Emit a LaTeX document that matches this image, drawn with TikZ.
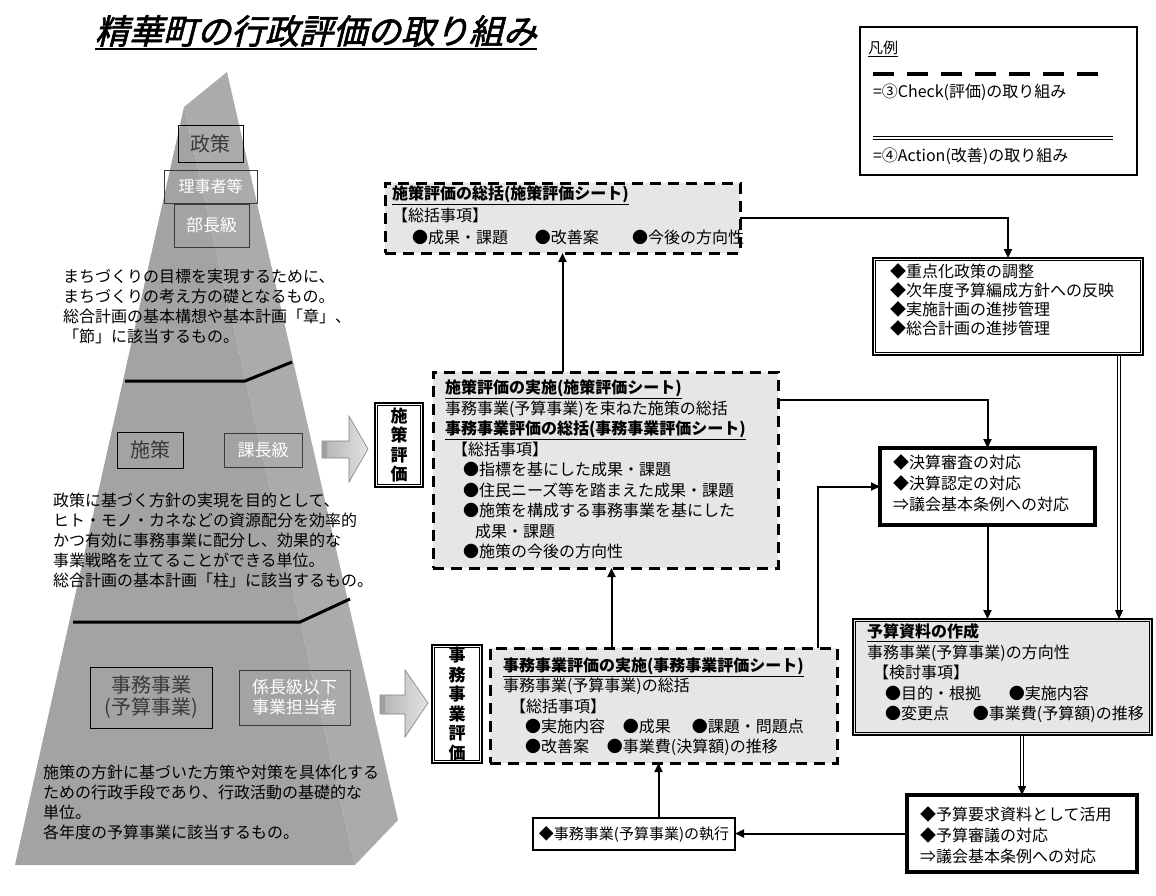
\documentclass[tikz,border=0pt]{standalone}
\usepackage{fontspec}
\setmainfont{Noto Sans CJK JP}
\newfontfamily\ttlfont[FakeSlant=0.25,FakeBold=2]{Noto Sans CJK JP}
\usetikzlibrary{arrows.meta,calc}
\definecolor{boxgray}{HTML}{E6E6E6}
\definecolor{pyr}{HTML}{A3A3A3}
\definecolor{pyrside}{HTML}{ABABAB}
\definecolor{dk}{HTML}{3A3A3A}
\newcommand\innerfr[1]{\draw[line width=1.1pt] ([shift={(2.8pt,-2.8pt)}]#1.north west) rectangle ([shift={(-2.8pt,2.8pt)}]#1.south east);}
\begin{document}
\begin{tikzpicture}[x=1pt,y=-1pt,
  every node/.style={inner sep=0pt,outer sep=0pt},
  chk/.style={draw=black,line width=3pt,dash pattern=on 11pt off 7pt,fill=boxgray,anchor=north west},
  act/.style={draw=black,line width=1.1pt},
  thk/.style={draw=black,line width=3.2pt,fill=white,anchor=north west},
  txt/.style={anchor=north west,align=left,font=\fontsize{16}{20.5}\selectfont},
  arr/.style={line width=2pt,-{Triangle[length=9pt,width=8pt]}},
  tip/.style={line width=1pt,-{Triangle[length=9pt,width=8pt]}},
  dl/.style={line width=1.1pt},
  darkbox/.style={draw=black,line width=1pt,text=dk,align=center},
  whitebox/.style={draw=dk,line width=0.8pt,text=white,align=center},
  vlab/.style={act,fill=white,align=center,font=\bfseries\fontsize{17}{19.5}\selectfont},
  blk/.style={left color=gray!60,right color=gray!22,draw=gray,line width=0.6pt}
]
\useasboundingbox (0,0) rectangle (1156,895);
\fill[white] (0,0) rectangle (1156,895);

% title
\node[anchor=west,font=\ttlfont\fontsize{34}{36}\selectfont] (title) at (95,31) {精華町の行政評価の取り組み};
\draw[line width=2.2pt] ([yshift=-2pt]title.south west) -- ([yshift=-2pt]title.south east);

% pyramid
\fill[pyr] (184,107) -- (15,865) -- (355,865) -- cycle;
\fill[pyrside] (184,107) -- (227,72) -- (398,820) -- (355,865) -- cycle;
\draw[line width=3pt] (125,381) -- (245,381) -- (292,362);
\draw[line width=3pt] (73,622) -- (300,622) -- (350,599);

\node[darkbox,minimum width=65pt,minimum height=37pt,font=\fontsize{20}{22}\selectfont] (seisaku) at (210.5,143.5) {政策};
\node[whitebox,minimum width=93pt,minimum height=33pt,font=\fontsize{16}{18}\selectfont] (riji) at (210.5,186.5) {理事者等};
\node[whitebox,minimum width=75pt,minimum height=43pt,font=\fontsize{17}{19}\selectfont] (bucho) at (211.5,225.5) {部長級};
\node[darkbox,minimum width=66pt,minimum height=36pt,font=\fontsize{20}{22}\selectfont] (shisaku) at (150,450) {施策};
\node[whitebox,minimum width=78pt,minimum height=34pt,font=\fontsize{17}{19}\selectfont] (kacho) at (263,450) {課長級};
\node[darkbox,minimum width=122pt,minimum height=61pt,font=\fontsize{20}{22}\selectfont] (jimu) at (151,697.5) {事務事業\\(予算事業)};
\node[whitebox,minimum width=111pt,minimum height=55pt,font=\fontsize{17}{20}\selectfont] (kakari) at (294.5,697.5) {係長級以下\\事業担当者};

\node[txt,font=\fontsize{16}{20}\selectfont] (p1) at (63,269) {まちづくりの目標を実現するために、\\まちづくりの考え方の礎となるもの。\\総合計画の基本構想や基本計画「章」、\\「節」に該当するもの。};
\node[txt,font=\fontsize{16}{20}\selectfont] (p2) at (53,493) {政策に基づく方針の実現を目的として、\\ヒト・モノ・カネなどの資源配分を効率的\\かつ有効に事務事業に配分し、効果的な\\事業戦略を立てることができる単位。\\総合計画の基本計画「柱」に該当するもの。};
\node[txt,font=\fontsize{16}{20}\selectfont] (p3) at (43,765) {施策の方針に基づいた方策や対策を具体化する\\ための行政手段であり、行政活動の基礎的な\\単位。\\各年度の予算事業に該当するもの。};

% block arrows
\shade[blk] (322,441) -- (349,441) -- (349,416) -- (368,449) -- (349,482) -- (349,458) -- (322,458) -- cycle;
\fill[gray!75] (322,441) rectangle (327,458);
\shade[blk] (380,695) -- (405,695) -- (405,670) -- (428,703) -- (405,737) -- (405,714) -- (380,714) -- cycle;
\fill[gray!75] (380,695) rectangle (385,714);

% vertical labels
\node[vlab,minimum width=48pt,minimum height=84pt] (vl1) at (399,445) {施\\策\\評\\価};
\innerfr{vl1}
\node[vlab,minimum width=50pt,minimum height=118pt] (vl2) at (457,704) {事\\務\\事\\業\\評\\価};
\innerfr{vl2}

% legend
\node[draw,line width=1.8pt,minimum width=277pt,minimum height=148pt,anchor=north west] (leg) at (860,27) {};
\node[anchor=west,font=\fontsize{15}{18}\selectfont] (legt) at (868,49) {\underline{凡例}};
\draw[line width=3.5pt,dash pattern=on 21pt off 13pt] (873,74) -- (1103,74);
\node[anchor=west,font=\fontsize{16}{18}\selectfont] (legc) at (873,92) {=③Check(評価)の取り組み};
\draw[dl] (873,136.3) -- (1113,136.3);
\draw[dl] (873,139.7) -- (1113,139.7);
\node[anchor=west,font=\fontsize{16}{18}\selectfont] (lega) at (873,156) {=④Action(改善)の取り組み};

% check boxes
\node[chk,minimum width=355pt,minimum height=70pt] (A) at (385,183) {};
\node[txt,font=\fontsize{16}{22}\selectfont] (At) at (392,186) {\textbf{\underline{施策評価の総括(施策評価シート)}}\\【総括事項】\\\hspace*{20pt}●成果・課題\hspace{27pt}●改善案\hspace{33pt}●今後の方向性};

\node[chk,minimum width=345pt,minimum height=196pt] (B) at (433,372) {};
\node[txt] (Bt) at (445,380) {\textbf{\underline{施策評価の実施(施策評価シート)}}\\事務事業(予算事業)を束ねた施策の総括\\\textbf{\underline{事務事業評価の総括(事務事業評価シート)}}\\\hspace*{7pt}【総括事項】\\\hspace*{18pt}●指標を基にした成果・課題\\\hspace*{18pt}●住民ニーズ等を踏まえた成果・課題\\\hspace*{18pt}●施策を構成する事務事業を基にした\\\hspace*{30pt}成果・課題\\\hspace*{18pt}●施策の今後の方向性};

\node[chk,minimum width=347pt,minimum height=115pt] (C) at (490,648) {};
\node[txt,font=\fontsize{16}{20.2}\selectfont] (Ct) at (503,658) {\textbf{\underline{事務事業評価の実施(事務事業評価シート)}}\\事務事業(予算事業)の総括\\\hspace*{7pt}【総括事項】\\\hspace*{22pt}●実施内容\hspace{18pt}●成果\hspace{21pt}●課題・問題点\\\hspace*{22pt}●改善案\hspace{18pt}●事業費(決算額)の推移};

% action / other boxes
\node[act,fill=white,minimum width=270pt,minimum height=97pt,anchor=north west] (D) at (873,258) {};
\innerfr{D}
\node[txt,font=\fontsize{16}{18.8}\selectfont] (Dt) at (890,264) {◆重点化政策の調整\\◆次年度予算編成方針への反映\\◆実施計画の進捗管理\\◆総合計画の進捗管理};

\node[thk,minimum width=215pt,minimum height=77pt] (E) at (880,448) {};
\node[txt,font=\fontsize{16}{21}\selectfont] (Et) at (893,455) {◆決算審査の対応\\◆決算認定の対応\\⇒議会基本条例への対応};

\node[act,fill=boxgray,minimum width=299pt,minimum height=116pt,anchor=north west] (F) at (853,619) {};
\innerfr{F}
\node[txt] (Ft) at (867,624) {\textbf{\underline{予算資料の作成}}\\事務事業(予算事業)の方向性\\\hspace*{6pt}【検討事項】\\\hspace*{18pt}●目的・根拠\hspace{28pt}●実施内容\\\hspace*{18pt}●変更点\hspace{24pt}●事業費(予算額)の推移};

\node[thk,minimum width=230pt,minimum height=77pt] (G) at (907,795) {};
\node[txt,font=\fontsize{16}{21}\selectfont] (Gt) at (920,807) {◆予算要求資料として活用\\◆予算審議の対応\\⇒議会基本条例への対応};

\node[draw,line width=1.6pt,fill=white,minimum width=202pt,minimum height=32pt,font=\fontsize{15}{18}\selectfont] (H) at (634,834) {◆事務事業(予算事業)の執行};

% connectors
\draw[arr] (A.east) -| (D.north);
\draw[arr] (B.north -| A.south) -- (A.south);
\coordinate (b1) at ([yshift=-28pt]B.north east);
\draw[arr] (b1) -| (E.north);
\coordinate (c1) at ([xshift=6pt]B.south);
\draw[arr] (c1 |- C.north) -- (c1);
\coordinate (c2) at ([xshift=-19pt]C.north east);
\draw[arr] (c2) |- (E.west);
\draw[arr] (E.south) -- (E.south |- F.north);
\coordinate (d1) at ([xshift=-24pt]D.south east);
\coordinate (d2) at (d1 |- F.north);
\draw[dl] ([xshift=-1.7pt]d1) -- ([xshift=-1.7pt,yshift=8pt]d2);
\draw[dl] ([xshift=1.7pt]d1) -- ([xshift=1.7pt,yshift=8pt]d2);
\draw[tip] ([yshift=9pt]d2) -- (d2);
\coordinate (f1) at (F.south -| G.north);
\draw[dl] ([xshift=-1.7pt]f1) -- ([xshift=-1.7pt,yshift=8pt]G.north);
\draw[dl] ([xshift=1.7pt]f1) -- ([xshift=1.7pt,yshift=8pt]G.north);
\draw[tip] ([yshift=9pt]G.north) -- (G.north);
\draw[arr] (G.west) -- (G.west -| H.east);
\coordinate (h1) at ([xshift=-5pt]C.south);
\draw[arr] (h1 |- H.north) -- (h1);
\end{tikzpicture}
\end{document}
